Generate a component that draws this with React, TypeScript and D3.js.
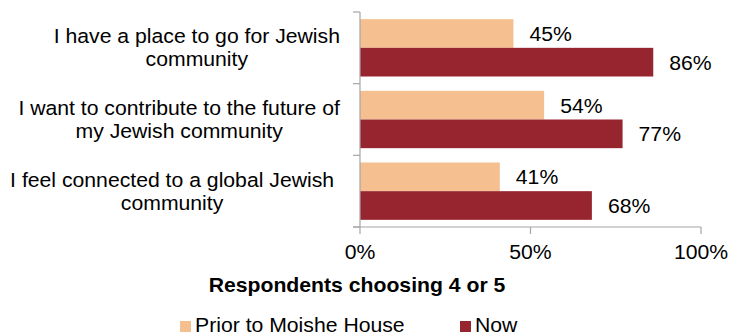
import React from "react";
import * as d3 from "d3";

const categoryLines: string[][] = [
  ["I have a place to go for Jewish", "community"],
  ["I want to contribute to the future of", "my Jewish community"],
  ["I feel connected to a global Jewish  ", "community"],
];
const categories = categoryLines.map((l) => l.join(" ").trim());
const seriesNames = ["Prior to Moishe House", "Now"];
const priorValues = [0.45, 0.54, 0.41];
const nowValues = [0.86, 0.77, 0.68];
const xTicks = [0, 0.5, 1];
const axisTitle = "Respondents choosing 4 or 5";

const COLORS = ["#F5BF8F", "#962530"];
const FONT = "'Liberation Sans', Arial, sans-serif";
const FS = 19.5;
const SX = 1.087;

let ctx: CanvasRenderingContext2D | null = null;
function measure(t: string) {
  if (!ctx) ctx = document.createElement("canvas").getContext("2d");
  if (!ctx) return t.length * FS * 0.5;
  ctx.font = `${FS}px ${FONT}`;
  return ctx.measureText(t).width * SX;
}

function T({ x, y, anchor = "start", weight = "normal", children }: any) {
  return (
    <text
      transform={`translate(${x},${y}) scale(${SX},1)`}
      textAnchor={anchor}
      fontFamily={FONT}
      fontSize={FS}
      fontWeight={weight}
      fill="#000"
      style={{ whiteSpace: "pre" }}
    >
      {children}
    </text>
  );
}

export default function App() {
  const W = 729, H = 335;
  const x = d3.scaleLinear().domain([0, 1]).range([360, 701]);
  const y = d3.scaleBand<string>().domain(categories).range([12, 227]).paddingInner(0.2).paddingOuter(0.1);
  const sub = d3.scaleBand<string>().domain(seriesNames).range([0, y.bandwidth()]);
  const series = [priorValues, nowValues];
  const step = y.step();
  const boundaries = d3.range(categories.length + 1).map((i) => 12 + i * step);
  const axisColor = "#A6A6A6";
  const labelRight = 340;

  return (
    <svg width={W} height={H} style={{ position: "absolute", left: 0, top: 0, background: "#fff" }}>
      {categories.map((c, ci) =>
        seriesNames.map((s, si) => {
          const v = series[si][ci];
          const by = (y(c) as number) + (sub(s) as number);
          return (
            <g key={c + s}>
              <rect x={x(0)} y={by} width={x(v) - x(0)} height={sub.bandwidth()} fill={COLORS[si]} />
              <T x={x(v) + 16} y={by + sub.bandwidth() / 2 + 7.5}>{`${Math.round(v * 100)}%`}</T>
            </g>
          );
        })
      )}
      <line x1={x(0)} x2={x(0)} y1={12} y2={227} stroke={axisColor} strokeWidth={1.2} />
      {boundaries.map((b, i) => (
        <line key={i} x1={x(0) - 7} x2={x(0)} y1={b} y2={b} stroke={axisColor} strokeWidth={1.2} />
      ))}
      <line x1={x(0) - 7} x2={x(1)} y1={227} y2={227} stroke={axisColor} strokeWidth={1.2} />
      {xTicks.map((t) => (
        <g key={t}>
          <line x1={x(t)} x2={x(t)} y1={227} y2={234} stroke={axisColor} strokeWidth={1.2} />
          <T x={x(t)} y={259} anchor="middle">{`${Math.round(t * 100)}%`}</T>
        </g>
      ))}
      {categories.map((c, ci) => {
        const lines = categoryLines[ci];
        const maxW = Math.max(...lines.map(measure));
        const cx = labelRight - maxW / 2;
        const cy = (y(c) as number) + y.bandwidth() / 2;
        return lines.map((ln, li) => (
          <T key={c + li} x={cx} y={cy - 4.5 + li * 23} anchor="middle">{ln.trim()}</T>
        ));
      })}
      <T x={357} y={292} anchor="middle" weight="bold">{axisTitle}</T>
      {seriesNames.map((s, i) => {
        const lx = i === 0 ? 180 : 460;
        return (
          <g key={s}>
            <rect x={lx} y={321} width={11} height={11} fill={COLORS[i]} />
            <T x={lx + 15} y={332}>{s}</T>
          </g>
        );
      })}
    </svg>
  );
}
